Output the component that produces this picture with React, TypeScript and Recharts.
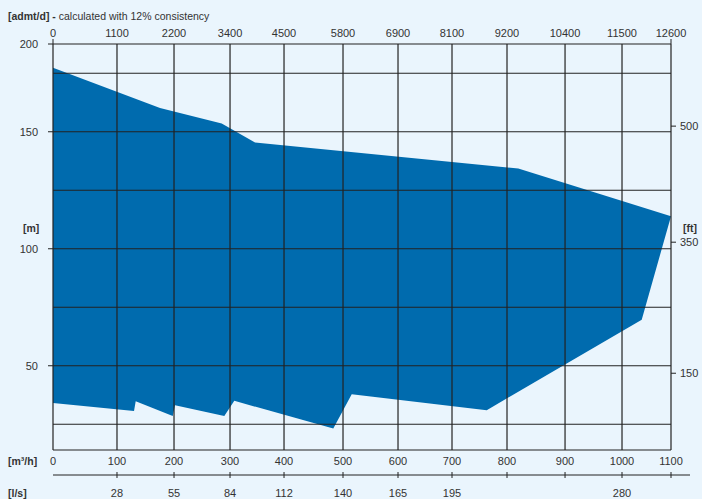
import React from 'react';
import { ComposedChart, Area, XAxis, YAxis, ReferenceLine, Customized } from 'recharts';

// Flow axis (m³/h) tick positions and labels
const flowTickPos = [0, 113.9, 215.4, 315.1, 411.2, 516.2, 614.1, 710.2, 808.1, 911.4, 1012.8, 1100];
const flowLabels = ['0', '100', '200', '300', '400', '500', '600', '700', '800', '900', '1000', '1100'];
const admtLabels = ['0', '1100', '2200', '3400', '4500', '5800', '6900', '8100', '9200', '10400', '11500', '12600'];
const lpsLabels = ['', '28', '55', '84', '112', '140', '165', '195', '', '', '280', ''];

// Head axis (m) ticks and labels
const headTickPos = [50, 100, 150, 187.5];
const headLabels = ['50', '100', '150', '200'];
const headGrid = [25, 50, 75, 100, 125, 150, 175];
const ftTickPos = [46.8, 102.8, 152.4];
const ftLabels = ['150', '350', '500'];

// Operating range envelope: upper edge and lower edge (flow, head)
const upperFlow = [0, 190.5, 300.3, 359.6, 828.2, 1100];
const upperHead = [177.3, 160.2, 153.5, 145.4, 134.3, 113.9];
const lowerFlow = [0, 144.2, 147.2, 213.1, 217.2, 304.9, 322.7, 498.9, 531.7, 772, 1047.9, 1100];
const lowerHead = [34.1, 30.7, 34.8, 28.5, 33.1, 28.5, 35.0, 23.2, 37.8, 31.0, 69.7, 113.9];

const BG = '#eaf5fd';
const FILL = '#006bae';
const LINE = '#222';
const TXT = '#333';
const FONT = '"Liberation Sans", Arial, Helvetica, sans-serif';

const rowMap = new Map<number, any>();
upperFlow.forEach((x, i) => rowMap.set(x, { ...(rowMap.get(x) || { x }), upper: upperHead[i] }));
lowerFlow.forEach((x, i) => rowMap.set(x, { ...(rowMap.get(x) || { x }), lower: lowerHead[i] }));
const chartData = Array.from(rowMap.values()).sort((a, b) => a.x - b.x);

const idx = (v: number) => flowTickPos.indexOf(v);

const TopTick = (props: any) => {
  const { x, y, payload } = props;
  const i = idx(payload.value);
  return (
    <g>
      {(i === 0 || i === flowTickPos.length - 1) && (
        <line x1={x} x2={x} y1={y} y2={y - 5} stroke={LINE} strokeWidth={1} />
      )}
      <text x={x} y={y - 7} textAnchor="middle" fontSize={11} fill={TXT} fontFamily={FONT}>
        {admtLabels[i]}
      </text>
    </g>
  );
};

const FlowTick = (props: any) => {
  const { x, y, payload } = props;
  const i = idx(payload.value);
  return (
    <text x={x} y={y + 15} textAnchor="middle" fontSize={11} fill={TXT} fontFamily={FONT}>
      {flowLabels[i]}
    </text>
  );
};

const LpsTick = (props: any) => {
  const { x, y, payload } = props;
  const i = idx(payload.value);
  return (
    <g>
      {i > 0 && <line x1={x} x2={x} y1={y - 3} y2={y + 3} stroke={LINE} strokeWidth={1} />}
      {i === flowTickPos.length - 1 && <line x1={x} x2={x + 19} y1={y} y2={y} stroke={LINE} strokeWidth={1} />}
      <text x={x} y={y + 22} textAnchor="middle" fontSize={11} fill={TXT} fontFamily={FONT}>
        {lpsLabels[i]}
      </text>
    </g>
  );
};

const HeadTick = (props: any) => {
  const { x, y, payload } = props;
  const i = headTickPos.indexOf(payload.value);
  return (
    <g>
      <line x1={x - 5} x2={x} y1={y} y2={y} stroke={LINE} strokeWidth={1} />
      <text x={x - 15} y={y + 4} textAnchor="end" fontSize={11} fill={TXT} fontFamily={FONT}>
        {headLabels[i]}
      </text>
    </g>
  );
};

const FtTick = (props: any) => {
  const { x, y, payload } = props;
  const i = ftTickPos.indexOf(payload.value);
  return (
    <g>
      <line x1={x} x2={x + 5} y1={y} y2={y} stroke={LINE} strokeWidth={1} />
      <text x={x + 9} y={y + 4} textAnchor="start" fontSize={11} fill={TXT} fontFamily={FONT}>
        {ftLabels[i]}
      </text>
    </g>
  );
};

const Titles = () => (
  <g fontFamily={FONT} fill={TXT}>
    <text x={8} y={20} fontSize={10.5}>
      <tspan fontWeight="bold">[admt/d] -</tspan>
      <tspan> calculated with 12% consistency</tspan>
    </text>
    <text x={23} y={232} fontSize={10.5} fontWeight="bold">[m]</text>
    <text x={683} y={232} fontSize={10.5} fontWeight="bold">[ft]</text>
    <text x={8} y={465} fontSize={10.5} fontWeight="bold">[m³/h]</text>
    <text x={8} y={497} fontSize={10.5} fontWeight="bold">[l/s]</text>
  </g>
);

export default function App() {
  return (
    <div style={{ position: 'fixed', left: 0, top: 0, width: 702, height: 499, background: BG }}>
      <ComposedChart
        width={702}
        height={499}
        data={chartData}
        margin={{ top: 19, right: 0, bottom: 0, left: 0 }}
      >
        <XAxis
          xAxisId="admt"
          orientation="top"
          dataKey="x"
          type="number"
          domain={[0, 1100]}
          allowDataOverflow
          ticks={flowTickPos}
          interval={0}
          height={25}
          tickSize={0}
          tickMargin={0}
          tickLine={false}
          axisLine={{ stroke: LINE, strokeWidth: 1.2 }}
          tick={<TopTick />}
        />
        <XAxis
          xAxisId="flow1"
          orientation="bottom"
          dataKey="x"
          type="number"
          domain={[0, 1100]}
          allowDataOverflow
          ticks={flowTickPos}
          interval={0}
          height={25}
          tickSize={0}
          tickMargin={0}
          tickLine={false}
          axisLine={{ stroke: LINE, strokeWidth: 1.2 }}
          tick={<FlowTick />}
        />
        <XAxis
          xAxisId="flow2"
          orientation="bottom"
          dataKey="x"
          type="number"
          domain={[0, 1100]}
          allowDataOverflow
          ticks={flowTickPos}
          interval={0}
          height={24}
          tickSize={0}
          tickMargin={0}
          tickLine={false}
          axisLine={{ stroke: LINE, strokeWidth: 1 }}
          tick={<LpsTick />}
        />
        <YAxis
          yAxisId="m"
          orientation="left"
          type="number"
          domain={[14, 187.5]}
          allowDataOverflow
          ticks={headTickPos}
          interval={0}
          width={53}
          tickSize={0}
          tickMargin={0}
          tickLine={false}
          axisLine={{ stroke: LINE, strokeWidth: 1.2 }}
          tick={<HeadTick />}
        />
        <YAxis
          yAxisId="ft"
          orientation="right"
          type="number"
          domain={[14, 187.5]}
          allowDataOverflow
          ticks={ftTickPos}
          interval={0}
          width={31}
          tickSize={0}
          tickMargin={0}
          tickLine={false}
          axisLine={{ stroke: LINE, strokeWidth: 1.2 }}
          tick={<FtTick />}
        />
        <Area
          xAxisId="flow1"
          yAxisId="m"
          type="linear"
          dataKey="upper"
          connectNulls
          fill={FILL}
          fillOpacity={1}
          stroke="none"
          isAnimationActive={false}
        />
        <Area
          xAxisId="flow1"
          yAxisId="m"
          type="linear"
          dataKey="lower"
          connectNulls
          fill={BG}
          fillOpacity={1}
          stroke="none"
          isAnimationActive={false}
        />
        {headGrid.map((h) => (
          <ReferenceLine key={'h' + h} xAxisId="flow1" yAxisId="m" y={h} stroke={LINE} strokeWidth={1.2} />
        ))}
        {flowTickPos.slice(1, -1).map((f) => (
          <ReferenceLine key={'v' + f} xAxisId="flow1" yAxisId="m" x={f} stroke={LINE} strokeWidth={1.2} />
        ))}
        <Customized component={Titles} />
      </ComposedChart>
    </div>
  );
}
